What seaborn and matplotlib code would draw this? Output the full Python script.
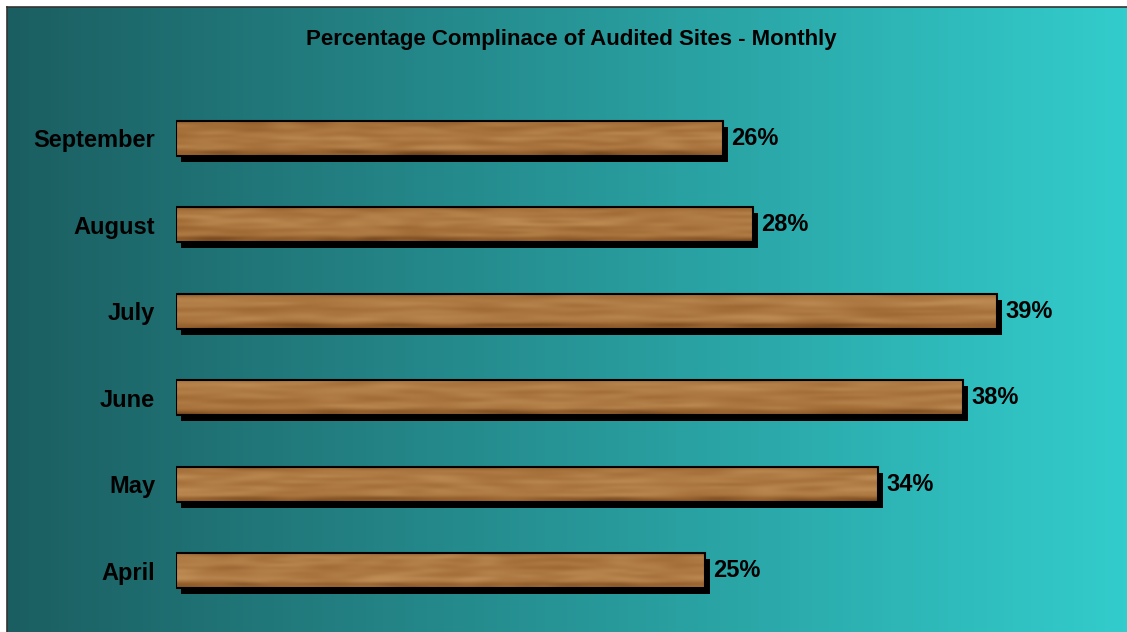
import numpy as np
import pandas as pd
import matplotlib
matplotlib.use("Agg")
import matplotlib.pyplot as plt
import matplotlib.transforms as mtransforms
from matplotlib.colors import LinearSegmentedColormap
from matplotlib.patches import Rectangle
import seaborn as sns

# Data
months = ["September", "August", "July", "June", "May", "April"]
compliance = [0.2617, 0.2761, 0.3928, 0.3766, 0.3359, 0.2531]
title = "Percentage Complinace of Audited Sites - Monthly"

sns.set_theme(style="white")
plt.rcParams["font.family"] = ["Liberation Sans", "DejaVu Sans"]

W, H = 1127, 632
fig = plt.figure(figsize=(W / 100, H / 100), dpi=100)
fig.patch.set_facecolor("white")

# Teal gradient panel behind the chart
bg = fig.add_axes([7 / W, 0, 1 - 7 / W, 1 - 7 / H])
teal = LinearSegmentedColormap.from_list("teal", ["#1b5e61", "#33cccc"])
bg.imshow(np.linspace(0, 1, 256)[None, :], aspect="auto", cmap=teal, extent=[0, 1, 0, 1])
bg.set_xticks([])
bg.set_yticks([])
for side in ["right", "bottom"]:
    bg.spines[side].set_visible(False)
for side in ["left", "top"]:
    bg.spines[side].set_color("#333333")
    bg.spines[side].set_linewidth(1.2)

# Bars
ax = fig.add_axes([176 / W, 18 / H, 940.5 / W, 519 / H])
ax.patch.set_alpha(0)
df = pd.DataFrame({"month": months, "compliance": compliance})
sns.barplot(data=df, x="compliance", y="month", order=months, width=0.4,
            color="#a8702f", saturation=1, errorbar=None,
            edgecolor="black", linewidth=1.5, ax=ax)

# Wood texture + drop shadow on every bar
wood = LinearSegmentedColormap.from_list(
    "wood", ["#5a3412", "#8a5626", "#a26c36", "#b5814a", "#c99b62"])
rng = np.random.default_rng(11)
shadow_off = mtransforms.ScaledTranslation(5 / 100, -6 / 100, fig.dpi_scale_trans)
for bar in ax.patches:
    x0, y0 = bar.get_x(), bar.get_y()
    w, h = bar.get_width(), bar.get_height()
    grain = rng.random((13, 28)) * 0.4 + 0.45
    grain += rng.random((13, 1)) * 0.15 - 0.07
    grain[-2:, :] -= 0.3
    grain[0, :] -= 0.15
    im = ax.imshow(grain, cmap=wood, vmin=0, vmax=1, aspect="auto",
                   interpolation="bicubic", extent=(x0, x0 + w, y0 + h, y0),
                   origin="upper", zorder=2)
    im.set_clip_path(bar)
    ax.add_patch(Rectangle((x0, y0), w, h, transform=ax.transData + shadow_off,
                           facecolor="black", edgecolor="none", zorder=1))
    bar.set_facecolor("none")
    bar.set_zorder(3)

ax.bar_label(ax.containers[0], labels=[f"{v:.0%}" for v in compliance],
             padding=6, fontsize=17, fontweight="bold", color="black")

ax.set_xlim(0, 0.45)
ax.set_ylim(5.5, -0.5)
ax.set_xticks([])
ax.set_xlabel("")
ax.set_ylabel("")
ax.tick_params(axis="y", length=0, pad=15, labelsize=17, labelcolor="black")
for t in ax.get_yticklabels():
    t.set_fontweight("bold")
for s in ax.spines.values():
    s.set_visible(False)

fig.text(571 / W, 1 - 39 / H, title, ha="center", va="center",
         fontsize=16, fontweight="bold", color="black")

fig.savefig("out.png", dpi=100)
